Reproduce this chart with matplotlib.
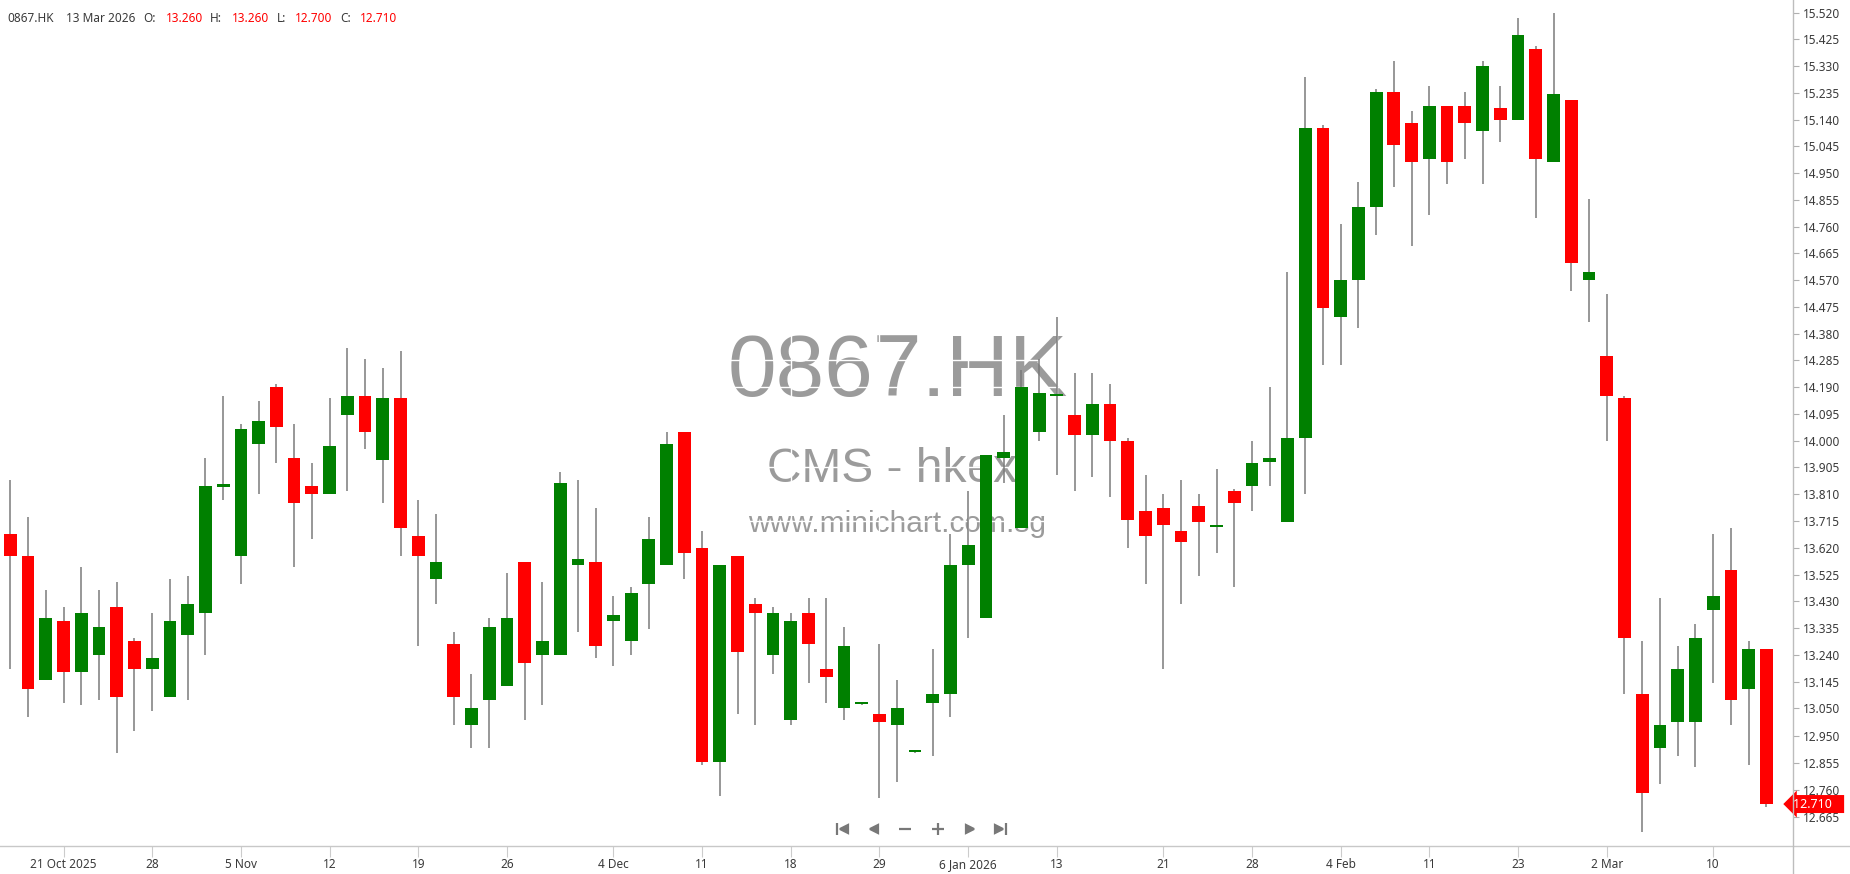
import numpy as np
import pandas as pd
import matplotlib
matplotlib.use('Agg')
import matplotlib.pyplot as plt
from matplotlib.lines import Line2D

symbol = '0867.HK'
source = 'CMS - hkex'
site = 'www.minichart.com.sg'

# HK trading days, holidays removed
holidays = ['2025-10-29', '2025-12-25', '2025-12-26', '2026-01-01',
            '2026-02-17', '2026-02-18', '2026-02-19']
dates = pd.bdate_range('2025-10-16', '2026-03-13')
dates = dates[~dates.isin(pd.to_datetime(holidays))]

opens = [13.67, 13.59, 13.15, 13.36, 13.18, 13.24, 13.41, 13.29, 13.19, 13.09,
         13.31, 13.39, 13.835, 13.59, 13.99, 14.19, 13.94, 13.84, 13.81, 14.09,
         14.16, 13.93, 14.15, 13.66, 13.51, 13.28, 12.99, 13.08, 13.13, 13.57,
         13.24, 13.24, 13.56, 13.57, 13.36, 13.29, 13.49, 13.56, 14.03, 13.62,
         12.86, 13.59, 13.42, 13.24, 13.01, 13.39, 13.19, 13.05, 13.065, 13.03,
         12.99, 12.895, 13.07, 13.10, 13.56, 13.37, 13.94, 13.69, 14.03, 14.16,
         14.09, 14.02, 14.13, 14.00, 13.75, 13.76, 13.68, 13.77, 13.695, 13.82,
         13.84, 13.925, 13.71, 14.01, 15.11, 14.44, 14.57, 14.83, 15.24, 15.13,
         15.00, 15.19, 15.19, 15.10, 15.18, 15.14, 15.39, 14.99, 15.21, 14.57,
         14.30, 14.15, 13.10, 12.91, 13.00, 13.00, 13.40, 13.54, 13.12, 13.26]
highs = [13.86, 13.73, 13.47, 13.41, 13.55, 13.47, 13.50, 13.30, 13.39, 13.51,
         13.52, 13.94, 14.16, 14.06, 14.14, 14.20, 14.06, 13.92, 14.15, 14.33,
         14.29, 14.26, 14.32, 13.79, 13.74, 13.32, 13.17, 13.37, 13.53, 13.57,
         13.50, 13.89, 13.86, 13.76, 13.45, 13.48, 13.73, 14.03, 14.03, 13.68,
         13.56, 13.59, 13.44, 13.41, 13.39, 13.44, 13.44, 13.34, 13.072, 13.28,
         13.15, 12.90, 13.26, 13.67, 13.82, 13.95, 14.09, 14.25, 14.29, 14.44,
         14.24, 14.24, 14.20, 14.01, 13.88, 13.81, 13.86, 13.81, 13.90, 13.83,
         14.00, 14.19, 14.60, 15.29, 15.12, 14.77, 14.92, 15.25, 15.35, 15.17,
         15.26, 15.19, 15.24, 15.35, 15.26, 15.50, 15.40, 15.52, 15.21, 14.86,
         14.52, 14.16, 13.29, 13.44, 13.27, 13.35, 13.67, 13.69, 13.29, 13.26]
lows = [13.19, 13.02, 13.15, 13.07, 13.06, 13.08, 12.89, 12.97, 13.04, 13.09,
        13.08, 13.24, 13.79, 13.49, 13.81, 13.92, 13.55, 13.65, 13.81, 13.82,
        13.97, 13.78, 13.59, 13.27, 13.42, 12.99, 12.91, 12.91, 13.13, 13.01,
        13.06, 13.24, 13.32, 13.23, 13.20, 13.24, 13.33, 13.56, 13.51, 12.85,
        12.74, 13.03, 12.99, 13.17, 12.99, 13.14, 13.07, 13.01, 13.062, 12.73,
        12.79, 12.89, 12.88, 13.02, 13.30, 13.37, 13.85, 13.69, 14.00, 13.88,
        13.82, 13.87, 13.80, 13.62, 13.49, 13.19, 13.42, 13.52, 13.60, 13.48,
        13.75, 13.84, 13.71, 13.81, 14.27, 14.27, 14.40, 14.73, 14.90, 14.69,
        14.80, 14.91, 15.00, 14.91, 15.06, 15.14, 14.79, 14.99, 14.53, 14.42,
        14.00, 13.10, 12.61, 12.78, 12.88, 12.84, 13.14, 12.99, 12.85, 12.70]
closes = [13.59, 13.12, 13.37, 13.18, 13.39, 13.34, 13.09, 13.19, 13.23, 13.36,
          13.42, 13.84, 13.845, 14.04, 14.07, 14.05, 13.78, 13.81, 13.98, 14.16,
          14.03, 14.15, 13.69, 13.59, 13.57, 13.09, 13.05, 13.34, 13.37, 13.21,
          13.29, 13.85, 13.58, 13.27, 13.38, 13.46, 13.65, 13.99, 13.60, 12.86,
          13.56, 13.25, 13.39, 13.39, 13.36, 13.28, 13.16, 13.27, 13.07, 13.00,
          13.05, 12.90, 13.10, 13.56, 13.63, 13.95, 13.96, 14.19, 14.17, 14.165,
          14.02, 14.13, 14.00, 13.72, 13.66, 13.70, 13.64, 13.71, 13.70, 13.78,
          13.92, 13.94, 14.01, 15.11, 14.47, 14.57, 14.83, 15.24, 15.05, 14.99,
          15.19, 14.99, 15.13, 15.33, 15.14, 15.44, 15.00, 15.23, 14.63, 14.60,
          14.16, 13.30, 12.75, 12.99, 13.19, 13.30, 13.45, 13.08, 13.26, 12.71]

tick_dates = ['2025-10-21', '2025-10-28', '2025-11-05', '2025-11-12',
              '2025-11-19', '2025-11-26', '2025-12-04', '2025-12-11',
              '2025-12-18', '2025-12-29', '2026-01-06', '2026-01-13',
              '2026-01-21', '2026-01-28', '2026-02-04', '2026-02-11',
              '2026-02-23', '2026-03-02', '2026-03-10']
tick_labels = ['21 Oct 2025', '28', '5 Nov', '12', '19', '26', '4 Dec', '11',
               '18', '29', '6 Jan 2026', '13', '21', '28', '4 Feb', '11',
               '23', '2 Mar', '10']
price_labels = ['15.520', '15.425', '15.330', '15.235', '15.140', '15.045',
                '14.950', '14.855', '14.760', '14.665', '14.570', '14.475',
                '14.380', '14.285', '14.190', '14.095', '14.000', '13.905',
                '13.810', '13.715', '13.620', '13.525', '13.430', '13.335',
                '13.240', '13.145', '13.050', '12.950', '12.855', '12.760',
                '12.665']

W, H = 1850, 874
UP = '#008000'
DOWN = '#ff0000'
TEXT = '#3a3a3a'
FONT = 'Noto Sans'


def fx(px):
    return px / W


def fy(py):
    return 1 - py / H


o = np.array(opens)
h = np.array(highs)
l = np.array(lows)
c = np.array(closes)
x = np.arange(len(dates))

fig = plt.figure(figsize=(W / 100, H / 100), dpi=100)
ax = fig.add_axes([0, fy(846), fx(1793), 846 / H])

# candles
ax.vlines(x, l, h, color='#7a7a7a', linewidth=1.1, zorder=2)
body_low = np.minimum(o, c)
body_h = np.maximum(np.abs(c - o), 0.007)
colors = np.where(c >= o, UP, DOWN)
ax.bar(x, body_h, bottom=body_low, width=0.72, color=colors,
       linewidth=0, zorder=3)

ax.set_xlim(-0.58, 100.5)
ax.set_ylim(12.561, 15.565)

pos = [dates.get_loc(pd.Timestamp(d)) for d in tick_dates]
ax.set_xticks(pos)
ax.set_xticklabels(tick_labels, fontfamily=FONT)
ax.set_yticks([float(p) for p in price_labels])
ax.set_yticklabels(price_labels, fontfamily=FONT)
ax.yaxis.tick_right()
ax.tick_params(axis='x', length=8, width=0.8, color='#cccccc', pad=1,
               labelsize=8.5, labelcolor=TEXT)
ax.tick_params(axis='y', length=4, width=0.8, color='#b0b0b0', pad=3,
               labelsize=8.5, labelcolor=TEXT)
for s in ax.spines.values():
    s.set_visible(False)

# white grid only shows over the watermark
ax.set_axisbelow(True)
ax.grid(True, color='white', linewidth=1.0)

wm = dict(transform=ax.transAxes, ha='center', va='baseline',
          color='#9b9b9b', family='Liberation Sans', zorder=0.1)
ax.text(898 / 1793, 1 - 396 / 846, symbol, fontsize=63, **wm)
ax.text(892 / 1793, 1 - 482 / 846, source, fontsize=34.5, **wm)
ax.text(897 / 1793, 1 - 532 / 846, site, fontsize=21.5, **wm)

# frame lines
fig.add_artist(Line2D([0, 1], [fy(846), fy(846)], transform=fig.transFigure,
                      color='#c8c8c8', linewidth=1.0))
fig.add_artist(Line2D([fx(1793), fx(1793)], [0, 1], transform=fig.transFigure,
                      color='#bdbdbd', linewidth=1.0))

# last price marker
ax.text(1.0, c[-1], '{:.3f}'.format(c[-1]) + '   ',
        transform=ax.get_yaxis_transform(), ha='left', va='center',
        fontsize=9, color='white', fontfamily=FONT, zorder=5, clip_on=False,
        bbox=dict(boxstyle='larrow,pad=0.2', fc=DOWN, ec='none'))

# header line
last = dates[-1].strftime('%d %b %Y').lstrip('0')
head = [(7, symbol, TEXT), (66, last, TEXT)]
names = ['O:', 'H:', 'L:', 'C:']
vals = [o[-1], h[-1], l[-1], c[-1]]
name_x = [143, 210, 277, 340]
val_x = [166, 232, 295, 360]
for i in range(4):
    head.append((name_x[i], names[i], TEXT))
    head.append((val_x[i], '{:.3f}'.format(vals[i]), DOWN))
for px, s, col in head:
    fig.text(fx(px), fy(18), s, ha='left', va='center', fontsize=8.5,
             color=col, fontfamily=FONT)

# navigation buttons
nav_y = fy(829)
grey = '#787878'


def mark(px, m, ms):
    fig.add_artist(Line2D([fx(px)], [nav_y], marker=m, markersize=ms,
                          color=grey, markeredgecolor=grey, linestyle='none',
                          markeredgewidth=1.6, transform=fig.transFigure))


mark(837, '|', 9)
mark(844, '<', 6)
mark(874, '<', 6)
mark(905, '_', 9)
mark(938, '+', 9)
mark(970, '>', 6)
mark(999, '>', 6)
mark(1006, '|', 9)

fig.savefig('out.png', dpi=100, facecolor='white')
